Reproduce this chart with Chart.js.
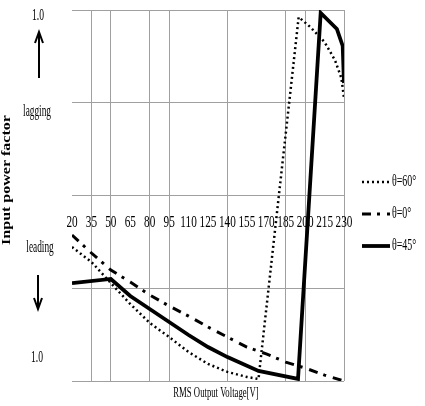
<!DOCTYPE html>
<html>
<head>
<meta charset="utf-8">
<script src="https://cdn.jsdelivr.net/npm/chart.js@4.4.0/dist/chart.umd.min.js"></script>
<style>
  body { margin: 0; background: #fff; }
</style>
</head>
<body>
<canvas id="chartPF" width="425" height="406"></canvas>
<script>
// voltage ticks (V) and the few that carry a grid line
const xTicks = [20, 35, 50, 65, 80, 95, 110, 125, 140, 155, 170, 185, 200, 215, 230];
const gridVolts = [35, 50, 80, 95, 140, 185, 200, 230];

// power factor: +1 = 1.0 lagging (top), -1 = 1.0 leading (bottom)
const volts60 = [20, 35, 50, 65, 80, 95, 110, 125, 140, 155, 164, 195, 204, 215, 223, 228, 230];
const pf60 = [-0.278, -0.358, -0.472, -0.585, -0.687, -0.763, -0.844, -0.908, -0.951, -0.978, -0.989, 0.962, 0.908, 0.827, 0.730, 0.633, 0.526];

const volts0 = [20, 35, 50, 65, 80, 95, 110, 125, 140, 155, 170, 185, 200, 215, 230];
const pf0 = [-0.213, -0.310, -0.402, -0.466, -0.536, -0.596, -0.650, -0.709, -0.763, -0.817, -0.854, -0.898, -0.930, -0.968, -1.000];

const volts45 = [20, 50, 65, 80, 95, 110, 125, 140, 164, 194.5, 212, 224.5, 229, 230];
const pf45 = [-0.472, -0.450, -0.542, -0.612, -0.682, -0.752, -0.817, -0.871, -0.946, -0.989, 0.984, 0.898, 0.806, 0.606];

const seriesLabels = ['θ=60°', 'θ=0°', 'θ=45°'];
const sideLabels = ['1.0', 'lagging', 'leading', '1.0'];
const xTitle = 'RMS Output Voltage[V]';
const yTitle = 'Input power factor';

function pts(xs, ys) {
  return xs.map((x, i) => ({ x: x, y: ys[i] }));
}

// narrow serif text, like the squeezed Times of the original
function squeeze(ctx, text, x, y, sx, align) {
  ctx.save();
  ctx.translate(x, y);
  ctx.scale(sx, 1);
  ctx.textAlign = align || 'center';
  ctx.fillText(text, 0, 0);
  ctx.restore();
}

function arrow(ctx, x, y1, y2) {
  const dir = y2 < y1 ? -1 : 1;
  ctx.beginPath();
  ctx.moveTo(x, y1);
  ctx.lineTo(x, y2);
  ctx.moveTo(x - 4, y2 - dir * 11);
  ctx.lineTo(x, y2);
  ctx.lineTo(x + 4, y2 - dir * 11);
  ctx.stroke();
}

const annotations = {
  id: 'annotations',
  afterDraw(chart) {
    const ctx = chart.ctx;
    const xs = chart.scales.x;
    const ys = chart.scales.y;
    ctx.save();
    ctx.fillStyle = '#000';
    ctx.strokeStyle = '#000';
    ctx.textBaseline = 'middle';

    // voltage labels sit inside the plot
    ctx.font = '17px "Liberation Serif"';
    const labelY = ys.getPixelForValue(-0.147);
    xTicks.forEach(v => squeeze(ctx, String(v), xs.getPixelForValue(v), labelY, 0.66));

    // left side annotations
    ctx.font = '16px "Liberation Serif"';
    squeeze(ctx, sideLabels[0], 38, 16, 0.6);
    squeeze(ctx, sideLabels[1], 37, 112, 0.58);
    squeeze(ctx, sideLabels[2], 40, 248, 0.58);
    squeeze(ctx, sideLabels[3], 37, 358, 0.6);
    ctx.lineWidth = 2;
    arrow(ctx, 39, 78, 32);
    arrow(ctx, 38, 275, 309);

    // axis titles
    ctx.font = '15px "Liberation Serif"';
    squeeze(ctx, xTitle, 216, 393, 0.58);
    ctx.save();
    ctx.translate(10, 180);
    ctx.rotate(-Math.PI / 2);
    ctx.scale(1, 0.8);
    ctx.font = 'bold 16px "Liberation Serif"';
    ctx.textAlign = 'center';
    ctx.textBaseline = 'alphabetic';
    ctx.fillText(yTitle, 0, 0);
    ctx.restore();

    // legend
    const legendY = [182, 214, 246];
    chart.data.datasets.forEach((ds, i) => {
      ctx.save();
      ctx.lineWidth = ds.borderWidth;
      ctx.setLineDash(ds.borderDash || []);
      ctx.beginPath();
      ctx.moveTo(362, legendY[i]);
      ctx.lineTo(390, legendY[i]);
      ctx.stroke();
      ctx.restore();
      ctx.font = '16px "Liberation Serif"';
      squeeze(ctx, ds.label, 392, legendY[i], 0.62, 'left');
    });
    ctx.restore();
  }
};

const ctx = document.getElementById('chartPF').getContext('2d');

const myChart = new Chart(ctx, {
  type: 'line',
  data: {
    datasets: [
      {
        label: seriesLabels[0],
        data: pts(volts60, pf60),
        borderColor: '#000',
        borderWidth: 2.5,
        borderDash: [2, 3],
        pointRadius: 0,
        tension: 0
      },
      {
        label: seriesLabels[1],
        data: pts(volts0, pf0),
        borderColor: '#000',
        borderWidth: 3,
        borderDash: [9, 6, 3, 7],
        pointRadius: 0,
        tension: 0
      },
      {
        label: seriesLabels[2],
        data: pts(volts45, pf45),
        borderColor: '#000',
        borderWidth: 3.8,
        pointRadius: 0,
        tension: 0
      }
    ]
  },
  options: {
    responsive: false,
    animation: false,
    layout: {
      padding: { left: 72, right: 81, top: 10, bottom: 25 }
    },
    plugins: {
      legend: { display: false },
      tooltip: { enabled: false }
    },
    scales: {
      x: {
        type: 'linear',
        min: 20,
        max: 230,
        ticks: { display: false, stepSize: 15 },
        border: { display: false },
        grid: {
          drawTicks: false,
          color: c => gridVolts.includes(c.tick.value) ? '#a0a0a0' : 'rgba(0,0,0,0)'
        }
      },
      y: {
        min: -1,
        max: 1,
        ticks: { display: false, stepSize: 0.5 },
        border: { display: false },
        grid: { drawTicks: false, color: '#a0a0a0' }
      }
    }
  },
  plugins: [annotations]
});
</script>
</body>
</html>
